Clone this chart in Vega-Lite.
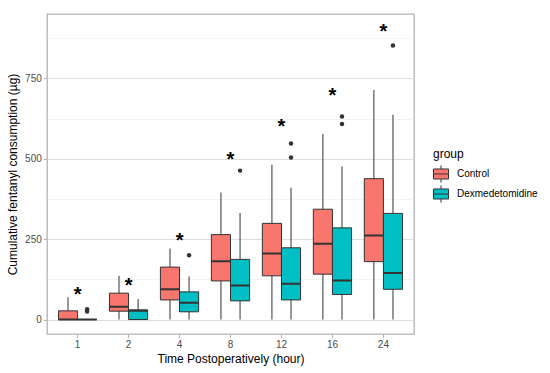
{
  "$schema": "https://vega.github.io/schema/vega-lite/v6.json",
  "width": 367,
  "height": 320,
  "autosize": {"type": "none"},
  "padding": {"left": 47, "top": 14, "right": 136, "bottom": 39},
  "background": "white",
  "config": {
    "font": "Liberation Sans",
    "view": {"stroke": "#B3B3B3", "strokeWidth": 1.3},
    "axis": {
      "domain": false,
      "gridColor": "#DEDEDE",
      "gridWidth": 1,
      "tickColor": "#B3B3B3",
      "tickSize": 3.7,
      "labelColor": "#4D4D4D",
      "labelFontSize": 10,
      "labelPadding": 2,
      "titleFontSize": 12,
      "titleFontWeight": "normal",
      "titleColor": "#000000"
    }
  },
  "datasets": {
    "boxes": [
      {"time": "1", "group": "Control", "lower": 0, "q1": 0, "median": 0, "q3": 27, "upper": 69},
      {"time": "1", "group": "Dexmedetomidine", "lower": 0, "q1": 0, "median": 0, "q3": 0, "upper": 0},
      {"time": "2", "group": "Control", "lower": 0, "q1": 26, "median": 40, "q3": 82, "upper": 136},
      {"time": "2", "group": "Dexmedetomidine", "lower": 0, "q1": 0, "median": 27, "q3": 30, "upper": 64},
      {"time": "4", "group": "Control", "lower": 0, "q1": 61, "median": 94, "q3": 163, "upper": 221},
      {"time": "4", "group": "Dexmedetomidine", "lower": 0, "q1": 24, "median": 52, "q3": 86, "upper": 134},
      {"time": "8", "group": "Control", "lower": 0, "q1": 120, "median": 181, "q3": 264, "upper": 395},
      {"time": "8", "group": "Dexmedetomidine", "lower": 0, "q1": 58, "median": 106, "q3": 187, "upper": 331},
      {"time": "12", "group": "Control", "lower": 0, "q1": 136, "median": 205, "q3": 299, "upper": 481},
      {"time": "12", "group": "Dexmedetomidine", "lower": 0, "q1": 61, "median": 111, "q3": 223, "upper": 410},
      {"time": "16", "group": "Control", "lower": 0, "q1": 141, "median": 236, "q3": 343, "upper": 577},
      {"time": "16", "group": "Dexmedetomidine", "lower": 0, "q1": 78, "median": 121, "q3": 285, "upper": 476},
      {"time": "24", "group": "Control", "lower": 0, "q1": 180, "median": 261, "q3": 438, "upper": 714},
      {"time": "24", "group": "Dexmedetomidine", "lower": 0, "q1": 94, "median": 145, "q3": 330, "upper": 637}
    ],
    "outliers": [
      {"time": "1", "group": "Dexmedetomidine", "value": 25},
      {"time": "1", "group": "Dexmedetomidine", "value": 32},
      {"time": "4", "group": "Dexmedetomidine", "value": 200},
      {"time": "8", "group": "Dexmedetomidine", "value": 463},
      {"time": "12", "group": "Dexmedetomidine", "value": 504},
      {"time": "12", "group": "Dexmedetomidine", "value": 547},
      {"time": "16", "group": "Dexmedetomidine", "value": 608},
      {"time": "16", "group": "Dexmedetomidine", "value": 631},
      {"time": "24", "group": "Dexmedetomidine", "value": 852}
    ],
    "stars": [
      {"time": "1", "value": 93, "label": "*"},
      {"time": "2", "value": 120, "label": "*"},
      {"time": "4", "value": 260, "label": "*"},
      {"time": "8", "value": 512, "label": "*"},
      {"time": "12", "value": 613, "label": "*"},
      {"time": "16", "value": 712, "label": "*"},
      {"time": "24", "value": 910, "label": "*"}
    ]
  },
  "encoding": {
    "x": {
      "field": "time",
      "type": "ordinal",
      "sort": ["1", "2", "4", "8", "12", "16", "24"],
      "scale": {"domain": ["1", "2", "4", "8", "12", "16", "24"], "paddingInner": 0.25, "paddingOuter": 0.225},
      "axis": {"title": "Time Postoperatively (hour)", "labelAngle": 0, "bandPosition": 0.5, "titlePadding": 4}
    }
  },
  "layer": [
    {
      "data": {"name": "boxes"},
      "mark": {"type": "rule", "color": "#555555", "strokeWidth": 1.2},
      "encoding": {
        "xOffset": {"field": "group", "type": "nominal", "scale": {"domain": ["Control", "Dexmedetomidine"], "paddingInner": 0, "paddingOuter": 0}},
        "y": {
          "field": "lower",
          "type": "quantitative",
          "scale": {"domain": [-45, 950], "nice": false, "zero": false},
          "axis": {
            "title": "Cumulative fentanyl consumption (µg)",
            "values": [0, 125, 250, 375, 500, 625, 750, 875],
            "labelExpr": "datum.value % 250 === 0 ? datum.label : ''",
            "labelOverlap": false,
            "labelFlush": false,
            "tickOpacity": {"condition": {"test": "datum.value % 250 === 0", "value": 1}, "value": 0},
            "gridColor": {"condition": {"test": "datum.value % 250 === 0", "value": "#DEDEDE"}, "value": "#EBEBEB"},
            "gridWidth": {"condition": {"test": "datum.value % 250 === 0", "value": 1}, "value": 0.6},
            "titlePadding": 5
          }
        },
        "y2": {"field": "upper"}
      }
    },
    {
      "data": {"name": "boxes"},
      "mark": {"type": "bar", "stroke": "#333333", "strokeWidth": 1},
      "encoding": {
        "xOffset": {"field": "group", "type": "nominal"},
        "y": {"field": "q1", "type": "quantitative"},
        "y2": {"field": "q3"},
        "color": {
          "field": "group",
          "type": "nominal",
          "scale": {"domain": ["Control", "Dexmedetomidine"], "range": ["#F8766D", "#00BFC4"]},
          "legend": {
            "title": "group",
            "orient": "none",
            "legendX": 386,
            "legendY": 135,
            "symbolType": "M-1,-0.667H1V0.667H-1Z M-1,0H1 M0,-0.667V-1.15 M0,0.667V1.15",
            "symbolSize": 225,
            "symbolStrokeColor": "#333333",
            "symbolStrokeWidth": 1,
            "symbolOpacity": 1,
            "labelFontSize": 10,
            "labelColor": "#000000",
            "labelOffset": 8,
            "titleFontSize": 12,
            "titleFontWeight": "normal",
            "titleColor": "#000000",
            "titlePadding": 5,
            "rowPadding": -2
          }
        }
      }
    },
    {
      "data": {"name": "boxes"},
      "mark": {"type": "bar", "stroke": "#333333", "strokeWidth": 2, "fillOpacity": 0},
      "encoding": {
        "xOffset": {"field": "group", "type": "nominal"},
        "y": {"field": "median", "type": "quantitative"},
        "y2": {"field": "median"}
      }
    },
    {
      "data": {"name": "outliers"},
      "mark": {"type": "circle", "color": "#333333", "size": 20, "opacity": 1},
      "encoding": {
        "xOffset": {"field": "group", "type": "nominal"},
        "y": {"field": "value", "type": "quantitative"}
      }
    },
    {
      "data": {"name": "stars"},
      "mark": {"type": "text", "fontSize": 20, "fontWeight": "bold", "color": "#000000", "baseline": "middle", "dy": 5},
      "encoding": {
        "y": {"field": "value", "type": "quantitative"},
        "text": {"field": "label"}
      }
    }
  ]
}
